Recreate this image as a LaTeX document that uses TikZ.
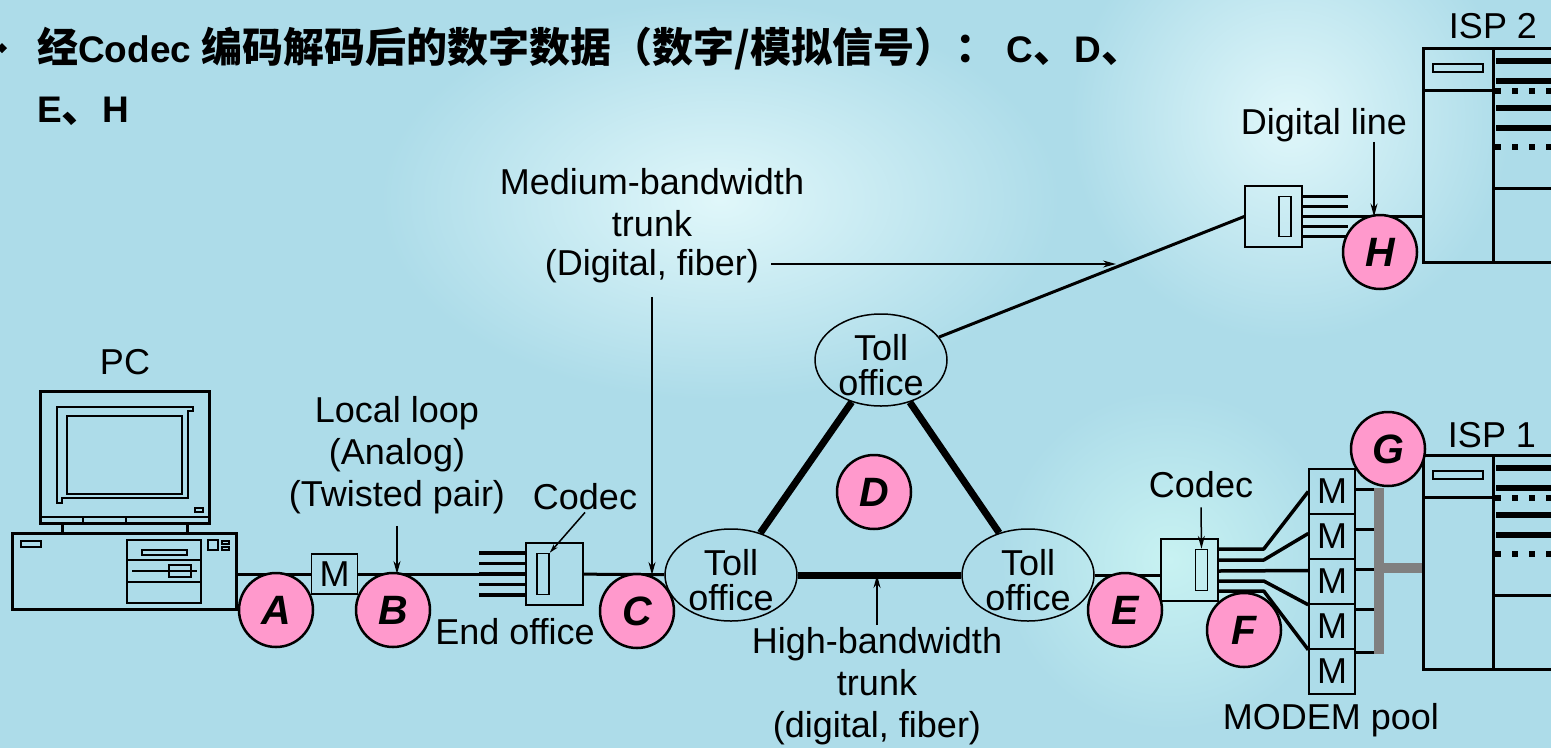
\documentclass[tikz,border=0pt]{standalone}
\usepackage{fontspec}
\setmainfont{Liberation Sans}
\newfontfamily\zhfont{Noto Sans CJK SC}
\newcommand{\zh}[1]{{\zhfont\fontsize{41}{60}\selectfont #1}}
\definecolor{SlideBlue}{RGB}{173, 220, 233}
\definecolor{Haze}{RGB}{224, 247, 250}
\definecolor{Mint}{RGB}{200, 242, 242}
\definecolor{MarkPink}{RGB}{255, 153, 204}
\definecolor{BusGray}{RGB}{128, 128, 128}
\usetikzlibrary{arrows.meta, positioning, shapes.geometric}

\begin{document}
\begin{tikzpicture}[
    x=1pt, y=-1pt,
    lbl/.style={font=\fontsize{36}{42}\selectfont, align=center, inner sep=0pt},
    heading/.style={font=\fontsize{37}{60}\selectfont\bfseries, inner sep=0pt, anchor=base west},
    letter/.style={circle, draw, line width=2.5pt, fill=MarkPink, minimum size=74pt, inner sep=0pt,
                font=\fontsize{41}{41}\selectfont\bfseries\itshape},
    toll/.style={ellipse, draw, line width=1.5pt, minimum width=132pt, minimum height=92pt, inner sep=0pt},
    tolltext/.style={font=\fontsize{36}{35}\selectfont, align=center, inner sep=0pt},
    modem/.style={draw, line width=1.5pt, minimum width=46pt, minimum height=45pt, inner sep=0pt,
                font=\fontsize{36}{36}\selectfont},
    codec/.style={draw, line width=1.5pt, minimum width=57pt, minimum height=62pt, inner sep=0pt},
    slot/.style={draw, line width=1.5pt, minimum width=12pt, minimum height=41pt, inner sep=0pt},
    rack/.style={draw, line width=3pt, minimum width=200pt, minimum height=214pt, inner sep=0pt},
    wire/.style={line width=3pt},
    fan/.style={line width=3.5pt, line join=round},
    trunk/.style={line width=7pt},
    pointer/.style={line width=1.5pt, -{Stealth[length=13pt, width=7pt]}},
    bus/.style={BusGray, line width=10pt}
]
\useasboundingbox (0,0) rectangle (1551,748);
\clip (0,0) rectangle (1551,748);
\fill[SlideBlue] (0,0) rectangle (1551,748);
\shade[inner color=Haze, outer color=SlideBlue] (720,200) ellipse (340 and 200);
\shade[inner color=Haze, outer color=SlideBlue] (1290,120) circle (220);
\shade[inner color=Mint, outer color=SlideBlue] (1170,560) circle (170);

\fill (2,43) -- (7,48) -- (2,53) -- (-3,48) -- cycle;
\node[heading] (ttl1) at (37,62) {\zh{经}Codec \zh{编码解码后的数字数据（数字/模拟信号）：} C\zh{、}D\zh{、}};
\node[heading] (ttl2) at (37,122) {E\zh{、}H};

\node[lbl] (pc) at (125,362) {PC};
\draw[line width=3pt] (40,391) rectangle (209,523);
\draw[line width=1.5pt] (57,503) -- (57,407) -- (193,407) -- (193,411) -- (188,411) -- (188,498) -- (62,498) -- (62,503) -- cycle;
\draw[line width=2pt] (67,416) rectangle (182,494);
\draw[line width=1.5pt] (195,508) rectangle (203,512);
\draw[line width=1.5pt] (41,517) -- (208,517) (83,517) -- (83,523) (126,517) -- (126,523);
\draw[line width=3pt] (62,523) -- (62,533) (187,523) -- (187,533);
\node[draw, line width=3pt, minimum width=224pt, minimum height=76pt, inner sep=0pt] (pcbase) at (124,571) {};
\draw[line width=2.5pt] (127,540) rectangle (201,603);
\draw[line width=2pt] (127,560) -- (201,560) (127,582) -- (201,582) (132,571) -- (197,571);
\draw[line width=1.5pt] (142,550) rectangle (187,555) (169,565) rectangle (191,577) (21,541) rectangle (41,547)
    (208,540) rectangle (218,550) (222,541) rectangle (229,544) (222,547) rectangle (229,550);

\node[modem, minimum height=40pt] (m0) at (334.5,574) {M};
\node[codec] (ccodec) at (554.5,574) {};
\node[slot] (cslot) at ([xshift=-11.5pt]ccodec.center) {};
\draw[wire] (pcbase.east |- m0) -- (m0);
\draw[wire] (m0) -- (ccodec);
\foreach \dy in {-21,-10.5,0,10.5,21}
    \draw[fan] ([yshift=\dy pt]ccodec.west) -- ++(-46,0);

\node[toll] (tl) at (731,575) {};
\node[toll] (tr) at (1028,575) {};
\node[toll] (tt) at (881,360) {};
\foreach \tn in {tl,tr,tt}
    \node[tolltext] at ([yshift=-5pt]\tn.center) {Toll\\office};
\draw[trunk] (tl) -- (tt);
\draw[trunk] (tt) -- (tr);
\draw[trunk] (tl) -- (tr);
\draw[wire] (ccodec) -- (tl);

\foreach \top/\nm in {48/isp2, 455/isp1}{
  \begin{scope}[shift={(1423,\top)}]
    \node[rack] (\nm) at (100,107) {};
    \draw[line width=3pt] (70,0) -- (70,214) (0,42) -- (70,42) (70,140) -- (200,140);
    \draw[line width=2.5pt] (10,16) rectangle (60,24);
    \foreach \ly in {13,33,60,80}
        \draw[line width=6pt] (73,\ly) -- (200,\ly);
    \foreach \ly in {43,99}
        \foreach \lx in {75,92,...,143}
            \fill (\lx-3,\ly-3) rectangle +(6,6);
  \end{scope}
}
\node[lbl] at (1493,26) {ISP 2};
\node[lbl] at (1492,435) {ISP 1};

\node[codec, minimum height=61pt] (hcodec) at (1273.5,216.5) {};
\node[slot, minimum height=40pt] (hslot) at ([xshift=11.5pt]hcodec.center) {};
\foreach \dy in {-20,-10,0,10,20}
    \draw[fan] ([yshift=\dy pt]hcodec.east) -- ++(45,0);
\draw[wire] (hcodec.east) -- (hcodec.east -| isp2.west);
\draw[wire] (tt) -- (hcodec.west);

\node[codec] (ecodec) at (1189.5,570) {};
\node[slot] (eslot) at ([xshift=12pt]ecodec.center) {};
\draw[wire] (tr.east) -- (tr.east -| ecodec.west);
\foreach \i in {1,...,5}
    \node[modem] (mp\i) at (1332,446.5+45*\i) {M};
\draw[fan] ([yshift=21pt]ecodec.east) -- ++(45,0) -- (mp1.west);
\draw[fan] ([yshift=10pt]ecodec.east) -- ++(45,0) -- ([yshift=3pt]mp2.west);
\draw[fan] ([yshift=-1pt]ecodec.east) -- ([yshift=11pt]mp3.west);
\draw[fan] ([yshift=-11pt]ecodec.east) -- ++(45,0) -- (mp3.south west);
\draw[fan] ([yshift=-21pt]ecodec.east) -- ++(45,0) -- (mp4.south west);
\foreach \i/\dy in {1/2.5, 2/7.5, 3/12.5, 4/17.5, 5/19.5}
    \draw[wire] ([yshift=\dy pt]mp\i.east) -- ++(21,0);
\coordinate (bustop) at ([xshift=23pt, yshift=4pt]mp1.east);
\coordinate (busbot) at ([xshift=23pt, yshift=18pt]mp5.east);
\draw[bus] (bustop) -- (busbot);
\draw[bus] ([yshift=-5.5pt]isp1.west) -- ++(-45,0);

\foreach \ltr/\x/\y in {A/276/610, B/393/610, C/637/611, D/874/492, E/1125/610, F/1244/630, G/1388/449, H/1380/252}
    \node[letter] (l\ltr) at (\x,\y) {\ltr};

\node[lbl] (ll) at (397,455) {Local loop\\(Analog)\\(Twisted pair)};
\draw[pointer] ([yshift=-12pt]ll.south) -- (ll.south |- m0);
\node[lbl] (cclbl) at (585,497) {Codec};
\draw[pointer, -{Stealth[length=9pt, width=5pt]}] ([yshift=-2pt]cclbl.south) -- (cslot.north east);
\node[lbl] (eolbl) at (515,632) {End office};

\node[lbl] (mbw) at (652,203) {Medium-bandwidth\\trunk};
\node[lbl] (mbwsub) at (652,266) {(Digital, fiber)};
\coordinate (mtip) at (1116,264);
\draw[pointer] ([xshift=12pt, yshift=2pt]mbwsub.east) -- (mtip);
\draw[pointer] ([yshift=-14pt]mbwsub.south) -- (mbwsub.south |- tl.west);

\node[lbl] (hbw) at (877,686) {High-bandwidth\\trunk\\(digital, fiber)};
\draw[pointer] ([yshift=2pt]hbw.north) -- (hbw.north |- tl.east);

\node[lbl] (dl) at (1324,125) {Digital line};
\coordinate (dlfoot) at ([xshift=50pt]dl.south);
\draw[pointer] (dlfoot) -- (dlfoot |- hcodec.east);

\node[lbl] (eclbl) at (1201,485) {Codec};
\draw[pointer] ([yshift=-9pt]eclbl.south) -- (eslot.north);
\node[lbl] (pool) at (1331,720) {MODEM pool};
\end{tikzpicture}
\end{document}
